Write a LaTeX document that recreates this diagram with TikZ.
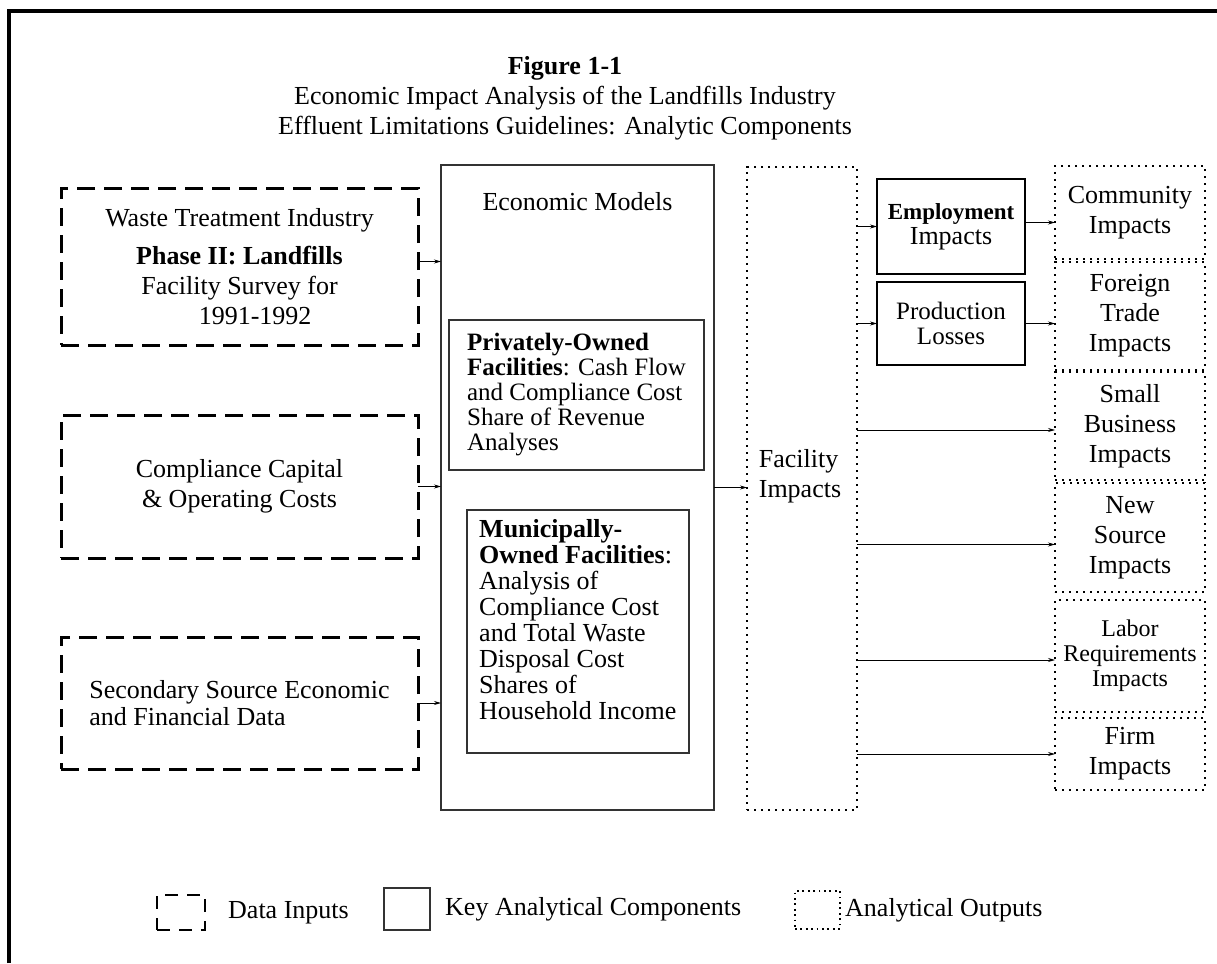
\documentclass[tikz,border=0pt]{standalone}
\usepackage{fontspec}
\setmainfont{Liberation Serif}
\usetikzlibrary{arrows.meta,positioning}

\tikzset{
  datain/.style={draw, line width=3pt, dash pattern=on 18pt off 9pt, anchor=north west, inner sep=0pt, outer sep=0pt},
  keybox/.style={draw=black!80, line width=1.2pt, anchor=north west, inner sep=0pt, outer sep=0pt},
  outbox/.style={draw, line width=2.4pt, dash pattern=on 2.4pt off 4.6pt, anchor=north west, inner sep=0pt, outer sep=0pt},
  arr/.style={-{Stealth[length=7pt,width=4pt]}, line width=0.8pt},
}

\begin{document}
\begin{tikzpicture}[x=1pt, y=-1pt, font=\fontsize{26}{30}\selectfont]
\useasboundingbox (0,0) rectangle (1217,963);
% frame
\draw[line width=4pt] (9,963) -- (9,11) -- (1217,11);

% title
\node[anchor=base, font=\fontsize{26}{30}\selectfont\bfseries] (fig) at (565,75) {Figure 1-1};
\node[anchor=base] (title2) at (565,105) {Economic Impact Analysis of the Landfills Industry};
\node[anchor=base] (title3) at (565,135) {Effluent Limitations Guidelines: Analytic Components};

% data inputs
\node[datain, minimum width=357pt, minimum height=157pt, align=center] (in1) at (61,188)
  {Waste Treatment Industry\\[8pt]\textbf{Phase II: Landfills}\\Facility Survey for\\\hspace{1.2em}1991-1992};
\node[datain, minimum width=357pt, minimum height=143pt, align=center] (in2) at (61,415)
  {Compliance Capital\\ \& Operating Costs};
\node[datain, minimum width=357pt, minimum height=132pt, align=left, font=\fontsize{26}{27}\selectfont] (in3) at (61,637)
  {Secondary Source Economic\\and Financial Data};

% economic models
\node[keybox, minimum width=273pt, minimum height=645pt] (econ) at (441,165) {};
\node[below=27pt of econ.north, inner sep=0pt] (econtxt) {Economic Models};
\node[keybox, minimum width=255pt, minimum height=150pt, align=left, font=\fontsize{25}{25}\selectfont] (priv) at (449,320)
  {\textbf{Privately-Owned}\\\textbf{Facilities}: Cash Flow\\and Compliance Cost\\Share of Revenue\\Analyses};
\node[keybox, minimum width=222pt, minimum height=243pt] (muni) at (467,510) {};
\node[anchor=north west, inner sep=0pt, align=left, font=\fontsize{26}{26}\selectfont] (munitxt) at (479,519)
  {\textbf{Municipally-}\\\textbf{Owned Facilities}:\\Analysis of\\Compliance Cost\\and Total Waste\\Disposal Cost\\Shares of\\Household Income};

% facility impacts
\node[outbox, minimum width=110pt, minimum height=643pt] (fac) at (747,167) {};
\node[inner sep=0pt, align=left] (factxt) at (800,476) {Facility\\Impacts};

\node[keybox, draw=black, minimum width=148pt, minimum height=95pt, align=center, font=\fontsize{26}{25}\selectfont] (emp) at (877,179)
  {{\fontsize{23}{25}\selectfont\bfseries Employment}\\Impacts};
\node[keybox, draw=black, minimum width=148pt, minimum height=83pt, align=center, font=\fontsize{25}{25}\selectfont] (prod) at (877,282)
  {Production\\Losses};

% analytical outputs
\node[outbox, minimum width=150pt, minimum height=93pt, align=center] (comm) at (1055,166) {Community\\Impacts};
\node[outbox, minimum width=150pt, minimum height=108pt, align=center] (trade) at (1055,262) {Foreign\\Trade\\Impacts};
\node[outbox, minimum width=150pt, minimum height=108pt, align=center] (small) at (1055,372) {Small\\Business\\Impacts};
\node[outbox, minimum width=150pt, minimum height=109pt, align=center] (newsrc) at (1055,483) {New\\Source\\Impacts};
\node[outbox, minimum width=150pt, minimum height=112pt, align=center, font=\fontsize{24}{25}\selectfont] (labor) at (1055,600) {Labor\\Requirements\\Impacts};
\node[outbox, minimum width=150pt, minimum height=72pt, align=center] (firm) at (1055,718) {Firm\\Impacts};

% connectors
\draw[arr] ([yshift=5pt]in1.east) -- ([yshift=5pt]in1.east -| econ.west);
\draw[arr] (in2.east) -- (in2.east -| econ.west);
\draw[arr] (in3.east) -- (in3.east -| econ.west);
\draw[arr] (econ.east) -- (econ.east -| fac.west);
\draw[arr] (emp.west -| fac.east) -- (emp.west);
\draw[arr] (prod.west -| fac.east) -- (prod.west);
\draw[arr] ([yshift=4pt]emp.east) -- ([yshift=4pt]emp.east -| comm.west);
\draw[arr] (prod.east) -- (prod.east -| trade.west);
\draw[arr] ([yshift=-4pt]small.west -| fac.east) -- ([yshift=-4pt]small.west);
\draw[arr] ([yshift=-7pt]newsrc.west -| fac.east) -- ([yshift=-7pt]newsrc.west);
\draw[arr] ([yshift=-4pt]labor.west -| fac.east) -- ([yshift=-4pt]labor.west);
\draw[arr] (firm.west -| fac.east) -- (firm.west);

% legend
\node[datain, line width=2.5pt, dash pattern=on 13pt off 9pt, minimum width=48pt, minimum height=35pt] (legin) at (157,895) {};
\node[right=23pt of legin, inner sep=0pt] (legintxt) {Data Inputs};
\node[keybox, minimum width=46pt, minimum height=42pt] (legkey) at (384,888) {};
\node[right=15pt of legkey, inner sep=0pt] (legkeytxt) {Key Analytical Components};
\node[outbox, line width=1.8pt, dash pattern=on 1.8pt off 3.6pt, minimum width=45pt, minimum height=38pt] (legout) at (795,891) {};
\node[right=5pt of legout, inner sep=0pt] (legouttxt) {Analytical Outputs};
\end{tikzpicture}
\end{document}
